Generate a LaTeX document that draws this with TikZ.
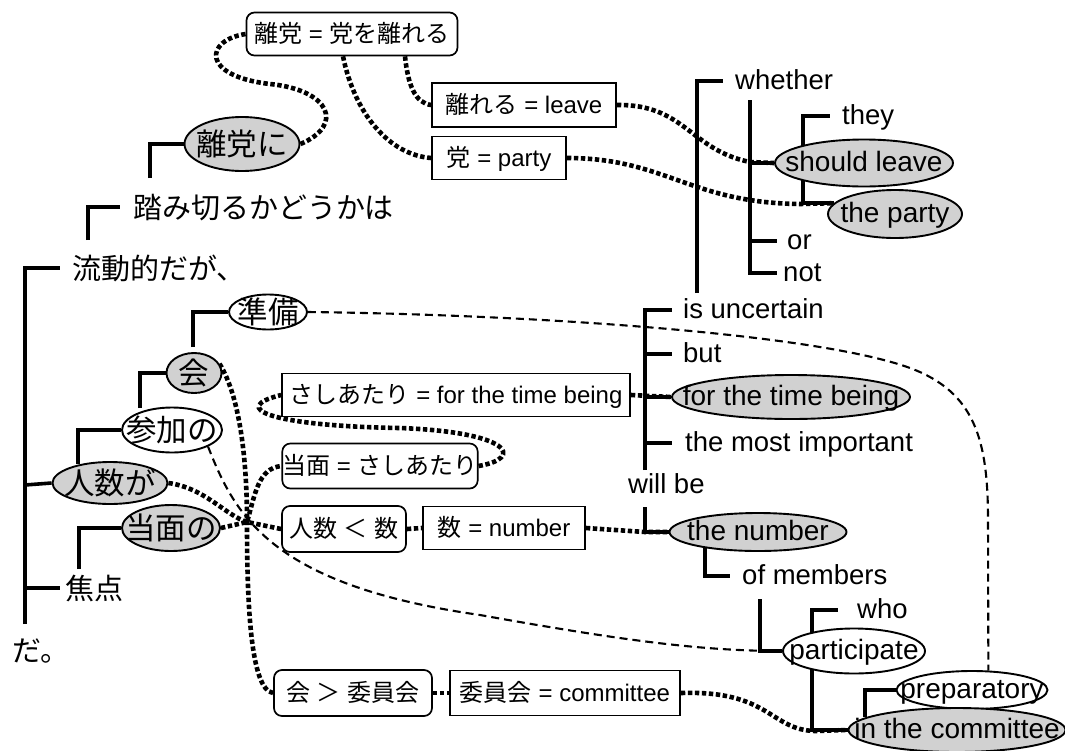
\documentclass[tikz,border=0pt]{standalone}
\usepackage{fontspec}
\setmainfont{Liberation Sans}
\newfontfamily\jp{Noto Sans CJK JP}
\usetikzlibrary{shapes.geometric}
\pgfdeclarelayer{back}
\pgfdeclarelayer{bg}
\pgfsetlayers{back,bg,main}
\newcommand\zw[1]{\makebox[0pt]{#1}}
\newcommand\J[1]{{\jp #1}}
\begin{document}
\begin{tikzpicture}[x=1pt,y=-1pt,
  br/.style={line width=3.6pt},
  dotc/.style={line width=4.6pt, dash pattern=on 4.4pt off 2.6pt},
  dsh/.style={line width=2.1pt, dash pattern=on 8pt off 5pt},
  ellw/.style={draw, ellipse, line width=1.9pt, inner sep=0pt, fill=white, text height=17pt, text depth=0pt},
  ells/.style={ellw, fill=black!18},
  ee/.style={font=\fontsize{28}{30}\selectfont},
  ej/.style={font=\jp\fontsize{30.5}{32}\selectfont, text height=23pt},
  bx/.style={draw, line width=1.7pt, inner sep=0pt, fill=white, font=\fontsize{24}{26}\selectfont, text height=18pt, text depth=2pt},
  rbx/.style={bx, rounded corners=8pt},
  te/.style={anchor=west, inner xsep=12pt, inner ysep=0pt, text height=17.6pt, text depth=0pt, font=\fontsize{27.5}{30}\selectfont},
  tj/.style={te, text height=22pt, font=\jp\fontsize{29}{32}\selectfont},
]
\begin{pgfonlayer}{back}
\fill[white] (0,0) rectangle (1065,750);
\end{pgfonlayer}
\useasboundingbox (0,0) rectangle (1065,750);

% boxes
\node[rbx, minimum width=211pt, minimum height=43pt] (b1) at (352,34) {\J{離党} = \J{党を離れる}};
\node[bx, minimum width=184pt, minimum height=44pt] (b2) at (524,105) {\J{離れる} = leave};
\node[bx, minimum width=134pt, minimum height=43pt] (b3) at (499,158) {\J{党} = party};
\node[bx, minimum width=348pt, minimum height=43pt] (b4) at (456,395) {\J{さしあたり} = for the time being};
\node[rbx, minimum width=195pt, minimum height=45pt] (b5) at (380,466) {\J{当面} = \J{さしあたり}};
\node[rbx, minimum width=124pt, minimum height=46pt] (b6) at (344,529) {\J{人数} \J{＜} \J{数}};
\node[bx, minimum width=162pt, minimum height=43pt] (b7) at (504,528) {\J{数} = number};
\node[rbx, minimum width=158pt, minimum height=46pt] (b8) at (353,693) {\J{会} \J{＞} \J{委員会}};
\node[bx, minimum width=230pt, minimum height=45pt] (b9) at (565,693) {\J{委員会} = committee};

% left ellipses
\node[ells, ej, minimum width=115pt, minimum height=54pt] (rito) at (242,144) {\zw{離党に}};
\node[ellw, ej, minimum width=78pt, minimum height=35pt] (junbi) at (268,312) {\zw{準備}};
\node[ells, ej, minimum width=55pt, minimum height=40pt] (kai) at (194,373) {\zw{会}};
\node[ellw, ej, minimum width=100pt, minimum height=45pt] (sanka) at (172,430) {\zw{参加の}};
\node[ells, ej, minimum width=115pt, minimum height=42pt] (ninzu) at (110,483) {\zw{人数が}};
\node[ells, ej, minimum width=98pt, minimum height=46pt] (toumen) at (171,528) {\zw{当面の}};

% right ellipses
\node[ells, ee, minimum width=178pt, minimum height=47pt] (sl) at (864,163) {\zw{should leave}};
\node[ells, ee, minimum width=134pt, minimum height=48pt] (tp) at (895,214) {\zw{the party}};
\node[ells, ee, minimum width=238pt, minimum height=44pt] (ftb) at (791,397) {\zw{for the time being}};
\node[ells, ee, minimum width=177pt, minimum height=38pt] (num) at (758,532) {\zw{the number}};
\node[ellw, ee, minimum width=142pt, minimum height=45pt] (part) at (854,651) {\zw{participate}};
\node[ellw, ee, minimum width=151pt, minimum height=38pt] (prep) at (972,690) {\zw{preparatory}};
\node[ells, ee, minimum width=217pt, minimum height=44pt] (com) at (957,730) {\zw{in the committee}};

% plain English texts
\node[te] (whether) at (723,81) {whether};
\node[te] (they) at (830,116) {they};
\node[te, inner xsep=10pt] (or) at (777,241) {or};
\node[te, inner xsep=6pt] (not) at (777,273) {not};
\node[te, inner xsep=11pt] (unc) at (672,310) {is uncertain};
\node[te, inner xsep=11pt] (but) at (672,354) {but};
\node[te, inner xsep=13pt] (most) at (672,443) {the most important};
\node[te, inner xsep=0pt] (will) at (628,485) {will be};
\node[te] (mem) at (730,576) {of members};
\node[te, inner xsep=19pt] (who) at (838,610) {who};

% plain Japanese texts
\node[tj, inner xsep=13pt] (fumi) at (120,207) {踏み切るかどうかは};
\node[tj] (ryu) at (60,268) {流動的だが、};
\node[tj, inner xsep=5pt] (sho) at (60,588) {焦点};
\node[tj] (da) at (0,650) {だ。};

% brackets left
\draw[br] (150,178) |- (rito.west);
\draw[br] (88,240) |- (fumi.west);
\draw[br] (25,624) |- (ryu.west);
\draw[br] (25,485) -- (ninzu.west);
\draw[br] (25,588) -- (sho.west);
\draw[br] (78,464) |- (sanka.west);
\draw[br] (140,408) |- (kai.west);
\draw[br] (193,347) |- (junbi.west);
\draw[br] (79,569) |- (toumen.west);

% brackets right
\draw[br] (697,293) |- (whether.west);
\draw[br] (750,100) |- (not.west);
\draw[br] (750,163) -- (sl.west);
\draw[br] (750,241) -- (or.west);
\draw[br] (803,146) |- (they.west);
\draw[br] (803,180) |- (tp.170);
\draw[br] (645,470) |- (unc.west);
\draw[br] (645,354) -- (but.west);
\draw[br] (645,397) -- (ftb.west);
\draw[br] (645,443) -- (most.west);
\draw[br] (645,507) |- (num.west);
\draw[br] (705,547) |- (mem.west);
\draw[br] (760,599) |- (part.west);
\draw[br] (812,633) |- (who.west);
\draw[br] (812,669) |- (com.west);
\draw[br] (865,717) |- (prep.west);

\begin{pgfonlayer}{bg}
% dotted correspondences
\draw[dotc] (rito.east) .. controls (345,125) and (330,90) .. (270,84) .. controls (200,76) and (205,40) .. (b1.west);
\draw[dotc] ([xshift=-9pt]b1.south) .. controls (355,115) and (390,155) .. (b3.west);
\draw[dotc] ([xshift=53pt]b1.south) .. controls (408,85) and (415,103) .. (b2.west);
\draw[dotc] (b2.east) .. controls (685,104) and (690,150) .. (750,162) -- (sl.west);
\draw[dotc] (b3.east) .. controls (665,158) and (690,203) .. (800,204) -- (tp.170);
\draw[dotc] (b4.east) -- (ftb.west);
\draw[dotc] (b5.east) .. controls (525,458) and (510,432) .. (400,428) .. controls (270,426) and (228,408) .. (b4.west);
\draw[dotc] (toumen.east) -- (247,522) .. controls (255,495) and (258,468) .. (b5.west);
\draw[dotc] (ninzu.east) .. controls (205,488) and (225,515) .. (247,522) -- (b6.west);
\draw[dotc] (kai.20) .. controls (242,400) and (247,470) .. (247,522) .. controls (247,600) and (250,690) .. (b8.west);
\draw[dotc] (b6.east) -- (b7.west);
\draw[dotc] (b7.east) -- (645,532) -- (num.west);
\draw[dotc] (b8.east) -- (b9.west);
\draw[dotc] (b9.east) .. controls (770,690) and (770,730) .. (815,731) -- (com.west);
% dashed
\draw[dsh] (sanka.south east) .. controls (235,515) and (270,585) .. (480,615) .. controls (620,640) and (700,651) .. (part.west);
\draw[dsh] (junbi.east) .. controls (550,315) and (820,335) .. (910,368) .. controls (975,392) and (988,440) .. (988,520) -- (prep.50);
\end{pgfonlayer}
\end{tikzpicture}
\end{document}
